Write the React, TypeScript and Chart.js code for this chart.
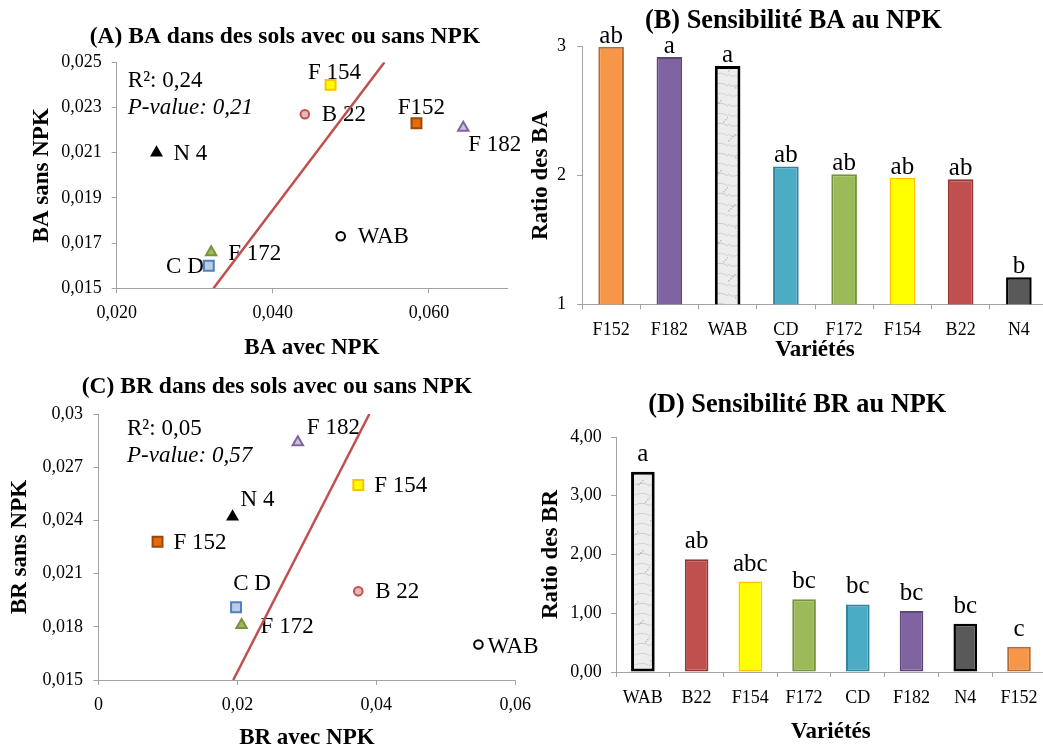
import React, { useEffect, useRef } from 'react';
import { Chart, registerables } from 'chart.js';

Chart.register(...registerables);

const SERIF = '"Liberation Serif", "Times New Roman", Times, serif';
const AXIS = '#a3a3a3';

// ---------------- DATA ----------------
// (A) BA dans des sols avec ou sans NPK
const varietiesA = ['F 154', 'B 22', 'F152', 'F 182', 'N 4', 'WAB', 'F 172', 'C D'];
const baAvecNPK = [0.0474, 0.0441, 0.0584, 0.0644, 0.0251, 0.0487, 0.0321, 0.0318];
const baSansNPK = [0.0240, 0.0227, 0.0223, 0.0221, 0.0210, 0.0173, 0.0166, 0.0160];
const trendAX = [0.0324, 0.0543];
const trendAY = [0.015, 0.025];
const ticksAX = [0.02, 0.04, 0.06];
const ticksAY = [0.015, 0.017, 0.019, 0.021, 0.023, 0.025];
const statsA = ['R²: 0,24', 'P-value: 0,21'];

// (B) Sensibilité BA au NPK
const categoriesB = ['F152', 'F182', 'WAB', 'CD', 'F172', 'F154', 'B22', 'N4'];
const ratioBA = [3.0, 2.92, 2.85, 2.07, 2.01, 1.98, 1.97, 1.21];
const lettersB = ['ab', 'a', 'a', 'ab', 'ab', 'ab', 'ab', 'b'];
const ticksB = [1, 2, 3];

// (C) BR dans des sols avec ou sans NPK
const varietiesC = ['F 182', 'F 154', 'N 4', 'F 152', 'B 22', 'C D', 'F 172', 'WAB'];
const brAvecNPK = [0.0287, 0.0374, 0.0193, 0.0085, 0.0374, 0.0198, 0.0206, 0.0547];
const brSansNPK = [0.0284, 0.0260, 0.0242, 0.0228, 0.0200, 0.0191, 0.0181, 0.0170];
const trendCX = [0.0194, 0.0390];
const trendCY = [0.015, 0.030];
const ticksCX = [0, 0.02, 0.04, 0.06];
const ticksCY = [0.015, 0.018, 0.021, 0.024, 0.027, 0.03];
const statsC = ['R²: 0,05', 'P-value: 0,57'];

// (D) Sensibilité BR au NPK
const categoriesD = ['WAB', 'B22', 'F154', 'F172', 'CD', 'F182', 'N4', 'F152'];
const ratioBR = [3.41, 1.92, 1.54, 1.24, 1.15, 1.04, 0.82, 0.43];
const lettersD = ['a', 'ab', 'abc', 'bc', 'bc', 'bc', 'bc', 'c'];
const ticksD = [0, 1, 2, 3, 4];

// ---------------- STYLES ----------------
const keyOf = (s: string) => s.replace(/\s+/g, '');

const BAR_STYLE: Record<string, { fill: string; border: string; width: number }> = {
  F152: { fill: '#F79646', border: '#B66D31', width: 2 },
  F182: { fill: '#8064A2', border: '#5C4776', width: 2 },
  WAB: { fill: 'pattern', border: '#000000', width: 3 },
  CD: { fill: '#4BACC6', border: '#31849B', width: 2 },
  F172: { fill: '#9BBB59', border: '#76923C', width: 2 },
  F154: { fill: '#FFFF00', border: '#FFC000', width: 1.5 },
  B22: { fill: '#C0504D', border: '#943634', width: 2 },
  N4: { fill: '#595959', border: '#000000', width: 2.5 },
};

const MARKER: Record<string, { shape: string; r: number; fill: string; border: string }> = {
  F154: { shape: 'rect', r: 7, fill: '#FFFF00', border: '#FFC000' },
  B22: { shape: 'circle', r: 4.3, fill: '#E6B9B8', border: '#C0504D' },
  F152: { shape: 'rect', r: 7, fill: '#E46C0A', border: '#984807' },
  F182: { shape: 'triangle', r: 6, fill: '#CCC1DA', border: '#8064A2' },
  N4: { shape: 'triangle', r: 5.5, fill: '#000000', border: '#000000' },
  WAB: { shape: 'circle', r: 4.3, fill: '#FFFFFF', border: '#000000' },
  F172: { shape: 'triangle', r: 6, fill: '#9BBB59', border: '#77933C' },
  CD: { shape: 'rect', r: 7, fill: '#B9CDE5', border: '#4F81BD' },
};

type Place = [CanvasTextAlign, number, number];
const PLACE_A: Record<string, Place> = {
  F154: ['center', 4, -12], B22: ['left', 17, 1], F152: ['center', 5, -15], F182: ['left', 5, 17],
  N4: ['left', 17, 1], WAB: ['left', 17, 1], F172: ['left', 17, 2], CD: ['right', -5, 1],
};
const PLACE_C: Record<string, Place> = {
  F182: ['left', 9, -14], F154: ['left', 16, 1], N4: ['left', 8, -17], F152: ['left', 16, 1],
  B22: ['left', 17, 1], CD: ['center', 16, -23], F172: ['left', 19, 2], WAB: ['left', 9, 2],
};

function marblePattern(ctx: CanvasRenderingContext2D) {
  const c = document.createElement('canvas');
  c.width = 26;
  c.height = 70;
  const g = c.getContext('2d')!;
  g.fillStyle = '#ededed';
  g.fillRect(0, 0, 26, 70);
  g.lineWidth = 1;
  for (let i = 0; i < 7; i++) {
    const y0 = i * 10 + 4;
    g.strokeStyle = i % 2 ? 'rgba(140,140,140,0.35)' : 'rgba(180,180,180,0.45)';
    g.beginPath();
    g.moveTo(0, y0);
    g.bezierCurveTo(7, y0 + 7, 15, y0 - 6, 26, y0 + 2);
    g.stroke();
  }
  g.fillStyle = 'rgba(110,110,110,0.35)';
  for (let i = 0; i < 14; i++) g.fillRect((i * 7) % 26, (i * 17) % 70, 1.5, 1.5);
  return ctx.createPattern(c, 'repeat')!;
}

const fmt3 = (v: number) => v.toFixed(3).replace('.', ',');
const fmtShort = (v: number) => String(parseFloat(v.toFixed(3))).replace('.', ',');

type Area = { left: number; right: number; top: number; bottom: number };

function axisCommon(fontSize: number, pad: number, cb: (v: number) => string) {
  return {
    ticks: {
      callback: (v: any) => cb(Number(v)),
      font: { family: SERIF, size: fontSize },
      color: '#000',
      padding: pad,
      maxRotation: 0,
      autoSkip: false,
    },
    grid: { drawOnChartArea: false, drawTicks: true, tickLength: 5, color: AXIS },
    border: { display: true, color: AXIS, width: 1 },
  };
}

function scatterConfig(s: any) {
  const keys: string[] = s.names.map(keyOf);
  const decor = {
    id: 'scatterDecor',
    beforeDatasetsDraw(chart: any) {
      const ctx = chart.ctx;
      const meta = chart.getDatasetMeta(0);
      ctx.save();
      ctx.font = `23px ${SERIF}`;
      ctx.fillStyle = '#000';
      ctx.textBaseline = 'middle';
      meta.data.forEach((pt: any, i: number) => {
        const [al, dx, dy] = s.place[keys[i]];
        ctx.textAlign = al;
        ctx.fillText(s.names[i], pt.x + dx, pt.y + dy);
      });
      ctx.restore();
    },
    afterDraw(chart: any) {
      const ctx = chart.ctx;
      ctx.save();
      ctx.fillStyle = '#000';
      ctx.textBaseline = 'middle';
      ctx.textAlign = 'center';
      ctx.font = `bold 23.5px ${SERIF}`;
      ctx.fillText(s.title, s.titleX, s.titleY);
      ctx.textAlign = 'left';
      ctx.font = `23px ${SERIF}`;
      ctx.fillText(s.stats[0], s.statsX, s.statsY[0]);
      ctx.font = `italic 23px ${SERIF}`;
      ctx.fillText(s.stats[1], s.statsX, s.statsY[1]);
      ctx.restore();
    },
  };
  const area: Area = s.area;
  return {
    type: 'scatter',
    data: {
      datasets: [
        {
          type: 'scatter',
          data: s.xs.map((x: number, i: number) => ({ x, y: s.ys[i] })),
          pointStyle: keys.map((k) => MARKER[k].shape),
          pointRadius: keys.map((k) => MARKER[k].r),
          pointBackgroundColor: keys.map((k) => MARKER[k].fill),
          pointBorderColor: keys.map((k) => MARKER[k].border),
          pointBorderWidth: 2,
        },
        {
          type: 'line',
          data: s.trendX.map((x: number, i: number) => ({ x, y: s.trendY[i] })),
          borderColor: '#C0504D',
          borderWidth: 2.5,
          pointRadius: 0,
          fill: false,
          showLine: true,
        },
      ],
    },
    options: {
      responsive: false,
      animation: false,
      devicePixelRatio: 1,
      layout: { padding: { left: 0, top: area.top, right: s.width - area.right, bottom: 0 } },
      plugins: { legend: { display: false }, tooltip: { enabled: false }, title: { display: false } },
      scales: {
        x: {
          type: 'linear',
          position: 'bottom',
          min: s.xRange[0],
          max: s.xRange[1],
          afterBuildTicks: (sc: any) => {
            sc.ticks = s.xTicks.map((value: number) => ({ value }));
          },
          afterFit: (sc: any) => {
            sc.height = s.height - area.bottom;
          },
          ...axisCommon(18, s.xTickPad, s.fmtX),
          title: {
            display: true,
            text: s.xTitle,
            color: '#000',
            font: { family: SERIF, size: 23, weight: 'bold', lineHeight: 1.2 },
            padding: { top: 0, bottom: Math.max(0, s.height - s.xTitleY - 13.8) },
          },
        },
        y: {
          type: 'linear',
          min: s.yRange[0],
          max: s.yRange[1],
          afterBuildTicks: (sc: any) => {
            sc.ticks = s.yTicks.map((value: number) => ({ value }));
          },
          afterFit: (sc: any) => {
            sc.width = area.left;
          },
          ...axisCommon(18, s.yTickPad, s.fmtY),
          title: {
            display: true,
            text: s.yTitle,
            color: '#000',
            font: { family: SERIF, size: 23, weight: 'bold', lineHeight: 1.2 },
            padding: { top: s.yTitleX - 13.8, bottom: 0 },
          },
        },
      },
    },
    plugins: [decor],
  };
}

function barConfig(s: any, ctx2d: CanvasRenderingContext2D) {
  const pattern = marblePattern(ctx2d);
  const area: Area = s.area;
  const decor = {
    id: 'barDecor',
    afterDraw(chart: any) {
      const ctx = chart.ctx;
      const meta = chart.getDatasetMeta(0);
      ctx.save();
      ctx.fillStyle = '#000';
      ctx.textAlign = 'center';
      ctx.textBaseline = 'alphabetic';
      ctx.font = `25px ${SERIF}`;
      meta.data.forEach((bar: any, i: number) => {
        ctx.fillText(s.letters[i], bar.x, bar.y - s.letterGap);
      });
      ctx.textBaseline = 'middle';
      ctx.font = `bold 26.3px ${SERIF}`;
      ctx.fillText(s.title, s.titleX, s.titleY);
      ctx.restore();
    },
  };
  return {
    type: 'bar',
    data: {
      labels: s.categories,
      datasets: [
        {
          data: s.values,
          backgroundColor: s.categories.map((c: string) => (BAR_STYLE[c].fill === 'pattern' ? pattern : BAR_STYLE[c].fill)),
          borderColor: s.categories.map((c: string) => BAR_STYLE[c].border),
          borderWidth: s.categories.map((c: string) => BAR_STYLE[c].width),
          borderSkipped: false,
          barPercentage: s.barPct,
          categoryPercentage: 1,
        },
      ],
    },
    options: {
      responsive: false,
      animation: false,
      devicePixelRatio: 1,
      layout: { padding: { left: 0, top: area.top, right: s.width - area.right, bottom: 0 } },
      plugins: { legend: { display: false }, tooltip: { enabled: false }, title: { display: false } },
      scales: {
        x: {
          type: 'category',
          afterFit: (sc: any) => {
            sc.height = s.height - area.bottom;
          },
          ticks: { font: { family: SERIF, size: 18 }, color: '#000', padding: s.xTickPad, maxRotation: 0, autoSkip: false },
          grid: { drawOnChartArea: false, drawTicks: true, tickLength: 5, color: AXIS, offset: true },
          border: { display: true, color: AXIS, width: 1 },
          title: {
            display: true,
            text: 'Variétés',
            color: '#000',
            font: { family: SERIF, size: 23, weight: 'bold', lineHeight: 1.2 },
            padding: { top: 0, bottom: Math.max(0, s.height - s.xTitleY - 13.8) },
          },
        },
        y: {
          type: 'linear',
          min: s.yRange[0],
          max: s.yRange[1],
          afterBuildTicks: (sc: any) => {
            sc.ticks = s.yTicks.map((value: number) => ({ value }));
          },
          afterFit: (sc: any) => {
            sc.width = area.left;
          },
          ...axisCommon(18, s.yTickPad, s.fmtY),
          title: {
            display: true,
            text: s.yTitle,
            color: '#000',
            font: { family: SERIF, size: 23, weight: 'bold', lineHeight: 1.2 },
            padding: { top: s.yTitleX - 13.8, bottom: 0 },
          },
        },
      },
    },
    plugins: [decor],
  };
}

// ---------------- PANEL SPECS ----------------
const specA = {
  names: varietiesA, xs: baAvecNPK, ys: baSansNPK, trendX: trendAX, trendY: trendAY,
  xRange: [0.02, 0.07], yRange: [0.015, 0.025], xTicks: ticksAX, yTicks: ticksAY,
  fmtX: fmt3, fmtY: fmt3, place: PLACE_A,
  title: '(A) BA dans des sols avec ou sans NPK', titleX: 285, titleY: 36.7,
  xTitle: 'BA avec NPK', yTitle: 'BA sans NPK', xTitleY: 348.3, yTitleX: 42,
  stats: statsA, statsX: 127.8, statsY: [81, 108.3],
  width: 540, height: 370, area: { left: 116.7, right: 507, top: 62.3, bottom: 288.3 },
  xTickPad: 9, yTickPad: 10,
};

const specC = {
  names: varietiesC, xs: brAvecNPK, ys: brSansNPK, trendX: trendCX, trendY: trendCY,
  xRange: [0, 0.06], yRange: [0.015, 0.03], xTicks: ticksCX, yTicks: ticksCY,
  fmtX: fmtShort, fmtY: fmtShort, place: PLACE_C,
  title: '(C) BR dans des sols avec ou sans NPK', titleX: 277, titleY: 16.7,
  xTitle: 'BR avec NPK', yTitle: 'BR sans NPK', xTitleY: 368, yTitleX: 20.5,
  stats: statsC, statsX: 127, statsY: [59.3, 85.7],
  width: 540, height: 382, area: { left: 98.5, right: 520, top: 44, bottom: 310 },
  xTickPad: 9, yTickPad: 10.5,
};

const specB = {
  categories: categoriesB, values: ratioBA, letters: lettersB,
  yRange: [1, 3], yTicks: ticksB, fmtY: (v: number) => String(v),
  title: '(B) Sensibilité BA au NPK', titleX: 273.3, titleY: 21.7,
  yTitle: 'Ratio des BA', xTitleY: 350, yTitleX: 21,
  width: 529, height: 370, area: { left: 62, right: 528, top: 46.7, bottom: 304.3 },
  xTickPad: 10, yTickPad: 11, letterGap: 4, barPct: 0.44,
};

const specD = {
  categories: categoriesD, values: ratioBR, letters: lettersD,
  yRange: [0, 4], yTicks: ticksD, fmtY: (v: number) => v.toFixed(2).replace('.', ','),
  title: '(D) Sensibilité BR au NPK', titleX: 277.2, titleY: 25,
  yTitle: 'Ratio des BR', xTitleY: 351.7, yTitleX: 31,
  width: 528, height: 369, area: { left: 96, right: 528, top: 57, bottom: 292 },
  xTickPad: 10.5, yTickPad: 9.3, letterGap: 11, barPct: 0.44,
};

function Panel({ left, top, width, height, make }: any) {
  const ref = useRef<HTMLCanvasElement>(null);
  useEffect(() => {
    const canvas = ref.current!;
    const chart = new Chart(canvas, make(canvas.getContext('2d')!) as any);
    return () => chart.destroy();
  }, []);
  return (
    <canvas
      ref={ref}
      width={width}
      height={height}
      style={{ position: 'absolute', left, top, width, height }}
    />
  );
}

export default function App() {
  useEffect(() => {
    document.body.style.margin = '0';
  }, []);
  return (
    <div style={{ position: 'fixed', left: 0, top: 0, width: 1043, height: 749, overflow: 'hidden', background: '#ffffff' }}>
      <Panel left={520} top={0} width={specB.width} height={specB.height} make={(ctx: any) => barConfig(specB, ctx)} />
      <Panel left={520} top={380} width={specD.width} height={specD.height} make={(ctx: any) => barConfig(specD, ctx)} />
      <Panel left={0} top={0} width={specA.width} height={specA.height} make={() => scatterConfig(specA)} />
      <Panel left={0} top={370} width={specC.width} height={specC.height} make={() => scatterConfig(specC)} />
    </div>
  );
}
